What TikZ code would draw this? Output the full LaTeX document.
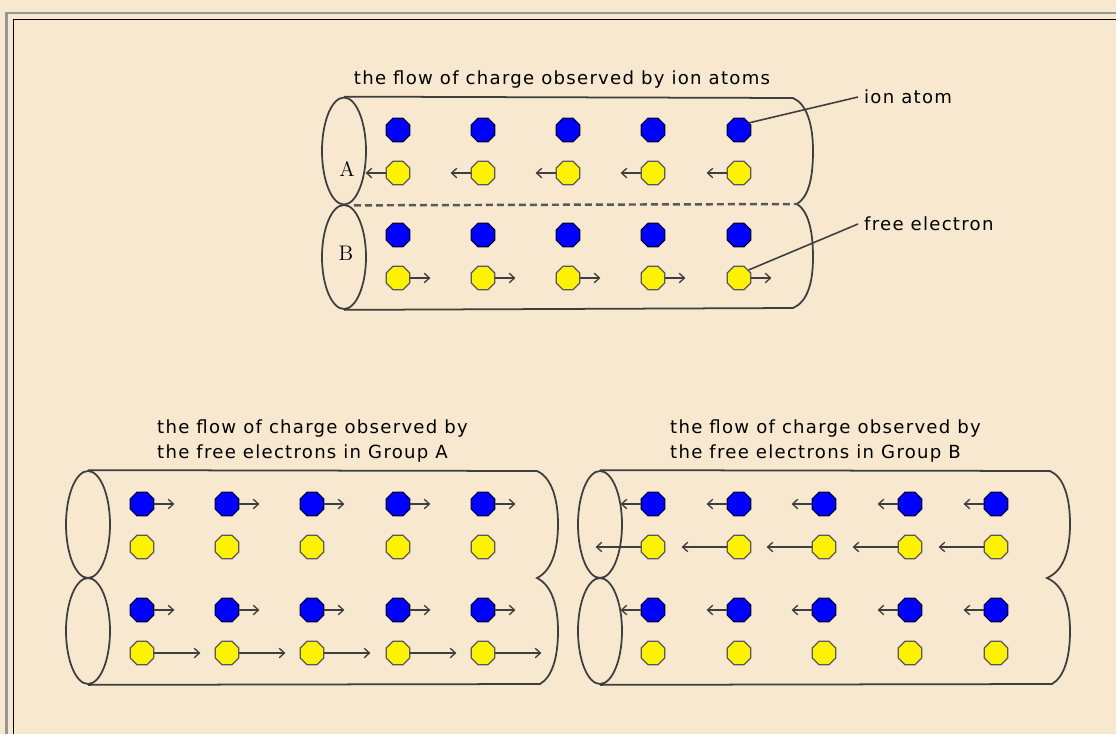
\documentclass[tikz,border=0pt]{standalone}
\usepackage{fontspec}
\newfontfamily\guifont[LetterSpace=7]{DejaVu Sans}
\usetikzlibrary{shapes.geometric, arrows.meta, calc}
\definecolor{paper}{RGB}{248,232,208}
\definecolor{wallgray}{RGB}{62,62,62}
\definecolor{framegray}{RGB}{150,150,150}

\begin{document}
\begin{tikzpicture}[
  x=0.02cm, y=-0.02cm,
  font=\guifont\fontsize{10.3}{14.2}\selectfont,
  >={Straight Barb[length=3pt,width=5.5pt]},
  ion/.style={regular polygon, regular polygon sides=8, draw=black!70!blue, fill=blue, inner sep=0pt, minimum size=5.1mm, line width=0.7pt},
  electron/.style={regular polygon, regular polygon sides=8, draw=black!65, fill=yellow, inner sep=0pt, minimum size=5.1mm, line width=0.7pt},
  endcap/.style={ellipse, draw=wallgray, line width=1pt, inner sep=0pt, minimum width=8.8mm},
  wall/.style={draw=wallgray, line width=1pt},
  flow/.style={->, draw=wallgray, line width=0.75pt},
  leader/.style={draw=wallgray, line width=0.9pt},
  capletter/.style={font=\rmfamily\fontsize{12}{12}\selectfont, inner sep=0pt}
]

% Paper and frame
\fill[paper] (0,0) rectangle (1116,734);
\useasboundingbox (0,0) rectangle (1116,734);
\draw[framegray, line width=1.6pt] (6.5,734) -- (6.5,13) -- (1116,13);
\draw[black, line width=0.6pt] (13.5,734) -- (13.5,19.5) -- (1116,19.5);

% Wire seen from the ions
\node (titleIon) at (562,80) {the flow of charge observed by ion atoms};
\node[endcap, minimum height=2.14cm] (capA) at (344,151) {};
\node[endcap, minimum height=2.08cm] (capB) at (344,257) {};
\node[capletter] (lblA) at (347,169) {A};
\node[capletter] (lblB) at (346,253) {B};
\draw[wall] (capA.north) -- (793,98) .. controls (807,104) and (813,125) .. (813,151)
  .. controls (813,180) and (808,197) .. (797,204) .. controls (808,211) and (813,230) .. (813,257)
  .. controls (813,284) and (807,302) .. (793,308) -- (capB.south);
\draw[draw=gray!70!black, line width=1.4pt, dash pattern=on 0.14cm off 0.08cm] ([xshift=2mm]capA.south) -- (797,204);

\foreach \x [count=\i] in {398,483,568,653,739} {
  \node[ion] (iA\i) at (\x,130) {};
  \node[electron] (eA\i) at (\x,173) {};
  \node[ion] (iB\i) at (\x,235) {};
  \node[electron] (eB\i) at (\x,278) {};
  \coordinate (tA\i) at ([xshift=-4mm]eA\i.west);
  \coordinate (tB\i) at ([xshift=4mm]eB\i.east);
  \draw[flow] (eA\i) -- (tA\i);
  \draw[flow] (eB\i) -- (tB\i);
}

\node[anchor=west] (ionlbl) at (858,97) {ion atom};
\node[anchor=west] (freelbl) at (858,224) {free electron};
\draw[leader] (ionlbl.west) -- (iA5.35);
\draw[leader] (freelbl.west) -- (eB5.40);

% Wire seen from group A
\node[align=left, anchor=west] (titleA) at (151,441) {the flow of charge observed by\\the free electrons in Group A};
\node[endcap, minimum height=2.14cm] (capC) at (88,524.5) {};
\node[endcap, minimum height=2.12cm] (capD) at (88,631) {};
\draw[wall] (capC.north) -- (537,471) .. controls (551,477) and (558,498) .. (558,524)
  .. controls (558,552) and (551,571) .. (537,578) .. controls (551,585) and (558,604) .. (558,631)
  .. controls (558,658) and (552,677) .. (540,684) -- (capD.south);

\foreach \x [count=\i] in {142,227,312,398,483} {
  \node[ion] (iC\i) at (\x,504) {};
  \node[electron] (eC\i) at (\x,547) {};
  \node[ion] (iD\i) at (\x,610) {};
  \node[electron] (eD\i) at (\x,653) {};
  \coordinate (tiC\i) at ([xshift=4mm]iC\i.east);
  \coordinate (tiD\i) at ([xshift=4mm]iD\i.east);
  \coordinate (teD\i) at ([xshift=9.2mm]eD\i.east);
  \draw[flow] (iC\i) -- (tiC\i);
  \draw[flow] (iD\i) -- (tiD\i);
  \draw[flow] (eD\i) -- (teD\i);
}

% Wire seen from group B
\node[align=left, anchor=west] (titleB) at (664,441) {the flow of charge observed by\\the free electrons in Group B};
\node[endcap, minimum height=2.14cm] (capE) at (600,524.5) {};
\node[endcap, minimum height=2.12cm] (capF) at (600,631) {};
\draw[wall] (capE.north) -- (1050,471) .. controls (1064,477) and (1070,498) .. (1070,524)
  .. controls (1070,552) and (1063,571) .. (1047,578) .. controls (1063,585) and (1070,604) .. (1070,631)
  .. controls (1070,658) and (1064,677) .. (1052,684) -- (capF.south);

\foreach \x [count=\i] in {653,739,824,910,996} {
  \node[ion] (iE\i) at (\x,504) {};
  \node[electron] (eE\i) at (\x,547) {};
  \node[ion] (iF\i) at (\x,610) {};
  \node[electron] (eF\i) at (\x,653) {};
  \coordinate (tiE\i) at ([xshift=-4mm]iE\i.west);
  \coordinate (teE\i) at ([xshift=-9mm]eE\i.west);
  \coordinate (tiF\i) at ([xshift=-4mm]iF\i.west);
  \draw[flow] (iE\i) -- (tiE\i);
  \draw[flow] (eE\i) -- (teE\i);
  \draw[flow] (iF\i) -- (tiF\i);
}

\end{tikzpicture}
\end{document}
